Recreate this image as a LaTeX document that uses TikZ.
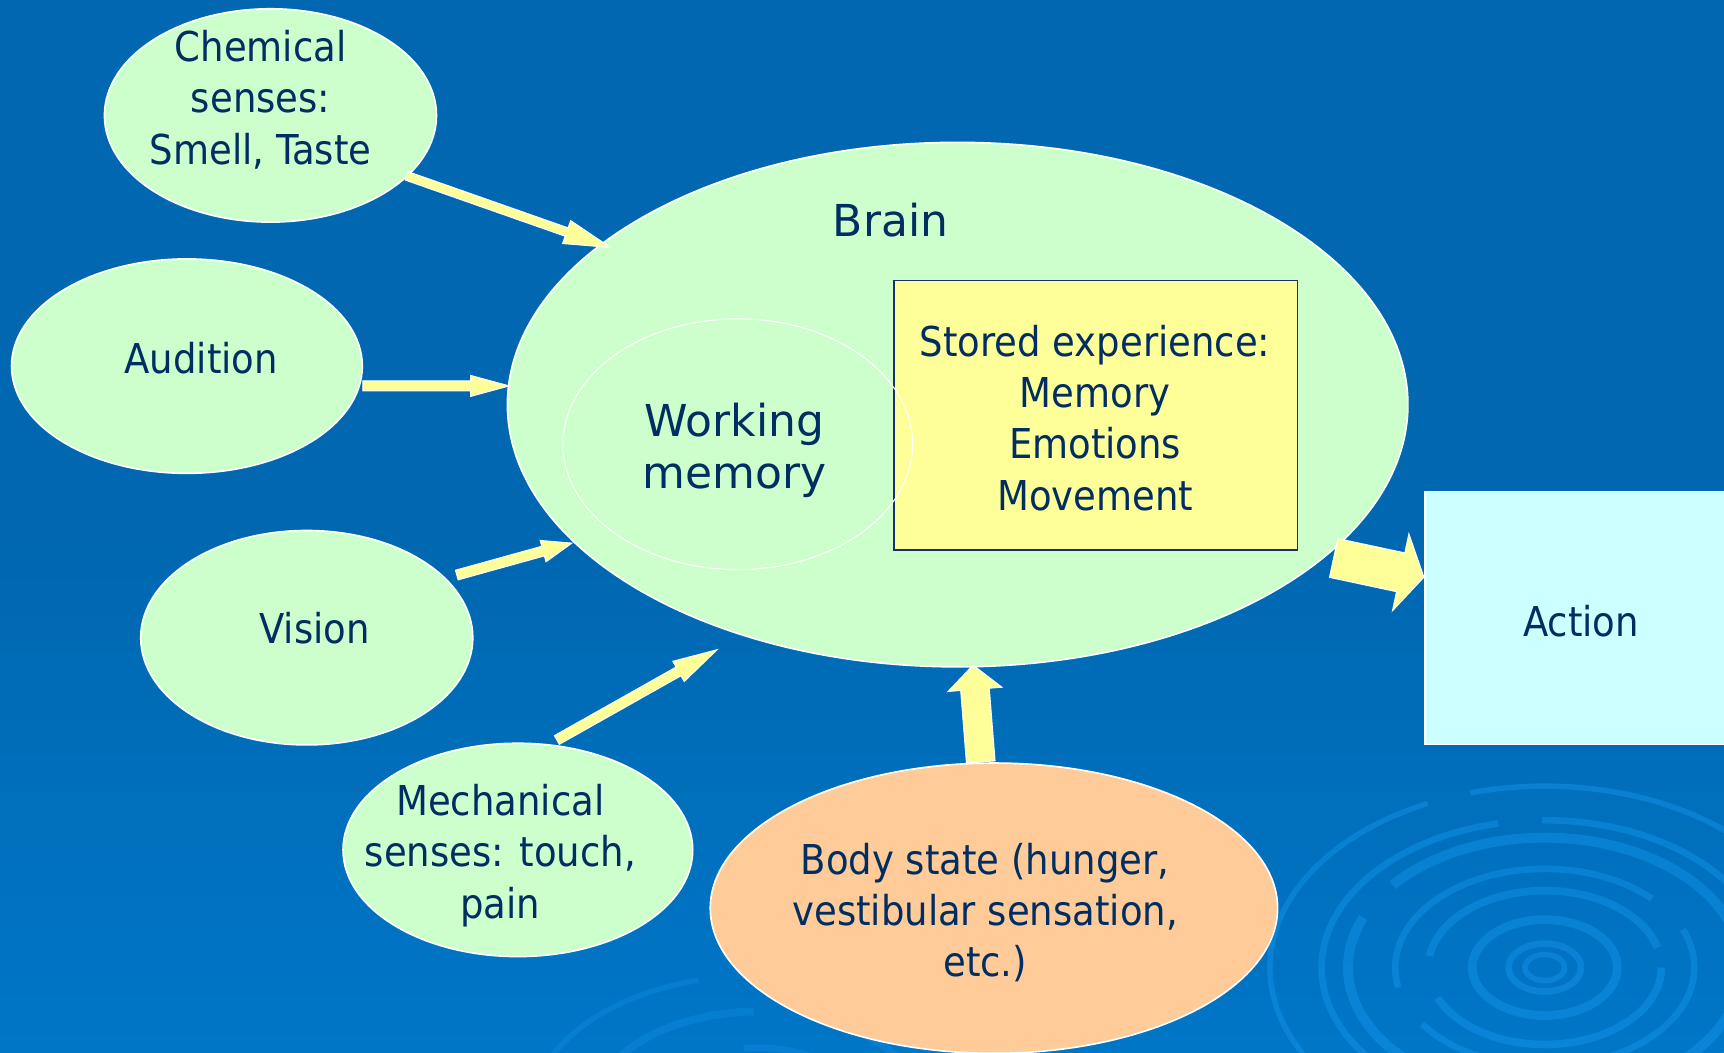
\documentclass[tikz,border=0pt]{standalone}
\usepackage{fontspec}
\setmainfont{DejaVu Sans Condensed}
\newfontfamily\widefont{DejaVu Sans}
\usetikzlibrary{shapes.geometric,calc}

\definecolor{bgtop}{RGB}{0,103,176}
\definecolor{bgbot}{RGB}{0,133,222}
\definecolor{ripplecol}{RGB}{20,150,236}
\definecolor{sensegreen}{RGB}{204,255,204}
\definecolor{bodypeach}{RGB}{255,204,153}
\definecolor{boxyellow}{RGB}{255,255,153}
\definecolor{actioncyan}{RGB}{204,255,255}
\definecolor{arrowyellow}{RGB}{255,255,153}
\definecolor{inktext}{RGB}{0,46,98}
\definecolor{boxedge}{RGB}{28,48,110}

\pgfdeclareverticalshading{bgshade}{100bp}{color(0bp)=(bgbot); color(50bp)=(bgtop); color(100bp)=(bgtop)}

\tikzset{
  bubble/.style={ellipse, fill=sensegreen, draw=white, line width=1.5pt, inner sep=0pt},
  txt/.style={text=inktext, font=\fontsize{37.4}{46.7}\selectfont, align=center, inner sep=0pt},
  widetxt/.style={txt, font=\widefont\fontsize{40}{46.7}\selectfont},
  arrowbody/.style={fill=arrowyellow, draw=white, line width=1pt, line join=miter},
  ripple/.style={draw=ripplecol, opacity=0.45},
}

% block arrow: tail, tip, half shaft width, half head width, head length
\newcommand\fatarrow[5]{%
  \coordinate (fa-b) at ($(#2)!#5!(#1)$);
  \draw[arrowbody] ($(#1)!#3!90:(#2)$) -- ($(fa-b)!#3!90:(#2)$) -- ($(fa-b)!#4!90:(#2)$)
    -- (#2) -- ($(fa-b)!#4!-90:(#2)$) -- ($(fa-b)!#3!-90:(#2)$) -- ($(#1)!#3!-90:(#2)$) -- cycle;
}

\begin{document}
\begin{tikzpicture}[x=1pt,y=-1pt]
\useasboundingbox (0,0) rectangle (1568,957);
\shade[shading=bgshade] (0,0) rectangle (1568,957);

% water ripples in the background
\begin{scope}
  \clip (0,0) rectangle (1568,957);
  \foreach \r/\w/\d in {18/5/400, 33/6/400, 66/8/380, 106/7/250, 136/6/300, 179/9/520, 203/6/360, 250/5/420}
    \draw[ripple, line width=\w pt, dash pattern=on \d pt off 40pt] (1405,880) ellipse [x radius=\r, y radius=0.66*\r];
  \foreach \r/\w/\d in {95/6/300, 150/7/260, 205/5/340}
    \draw[ripple, opacity=0.3, line width=\w pt, dash pattern=on \d pt off 50pt] (690,1010) ellipse [x radius=\r, y radius=0.6*\r];
\end{scope}

% brain and its contents
\node[bubble, minimum width=819pt, minimum height=477pt] (brain) at (871,368) {};
\node[widetxt] (brain-t) at (810,200) {Brain};
\node[rectangle, fill=boxyellow, draw=boxedge, line width=1.5pt, minimum width=367pt, minimum height=245pt] (stored) at (996.5,377.5) {};
\node[ellipse, draw=white, line width=1pt, minimum width=318pt, minimum height=228pt, inner sep=0pt] (work) at (671,404) {};
\node[widetxt] (work-t) at (668,409.5) {Working\\memory};
\node[txt] (stored-t) at (996,380) {Stored experience:\\Memory\\Emotions\\Movement};

% senses
\node[bubble, minimum width=302pt, minimum height=194pt] (chem) at (246,105) {};
\node[txt] (chem-t) at (237,90.5) {Chemical\\senses:\\Smell, Taste};
\node[bubble, minimum width=319pt, minimum height=195pt] (aud) at (170,333) {};
\node[txt] (aud-t) at (183,326) {Audition};
\node[bubble, minimum width=302pt, minimum height=195pt] (vis) at (279,580) {};
\node[txt] (vis-t) at (286,571) {Vision};
\node[bubble, minimum width=318pt, minimum height=194pt] (mech) at (471,773) {};
\node[txt] (mech-t) at (455,778) {Mechanical\\senses: touch,\\pain};
\node[bubble, fill=bodypeach, minimum width=516pt, minimum height=264pt] (body) at (904,826) {};
\node[txt] (body-t) at (896,830) {Body state (hunger,\\vestibular sensation,\\etc.)};

% action
\node[rectangle, fill=actioncyan, draw=white, line width=1.5pt, minimum width=279pt, minimum height=230pt] (action) at (1435.5,562) {};
\node[txt] (action-t) at (1438,565) {Action};

% arrow end points
\coordinate (chem-o) at (370,160);  \coordinate (chem-i) at (555,225);
\coordinate (aud-o) at (330,351);   \coordinate (aud-i) at (463,351);
\coordinate (vis-o) at (415.5,523); \coordinate (vis-i) at (520,494);
\coordinate (mech-o) at (506.5,673);\coordinate (mech-i) at (652,591);
\coordinate (body-o) at (892,693);  \coordinate (body-i) at (885,605);
\coordinate (brain-o) at (1213,507.5); \coordinate (action-i) at (1295,525);

\fatarrow{chem-o}{chem-i}{4pt}{11pt}{42pt}
\fatarrow{aud-o}{aud-i}{4.5pt}{9.5pt}{35pt}
\fatarrow{vis-o}{vis-i}{4.5pt}{10pt}{27pt}
\fatarrow{mech-o}{mech-i}{4.5pt}{10.5pt}{40pt}
\fatarrow{body-o}{body-i}{13pt}{24.5pt}{22pt}
\fatarrow{brain-o}{action-i}{18pt}{35.6pt}{21.5pt}
\end{tikzpicture}
\end{document}
